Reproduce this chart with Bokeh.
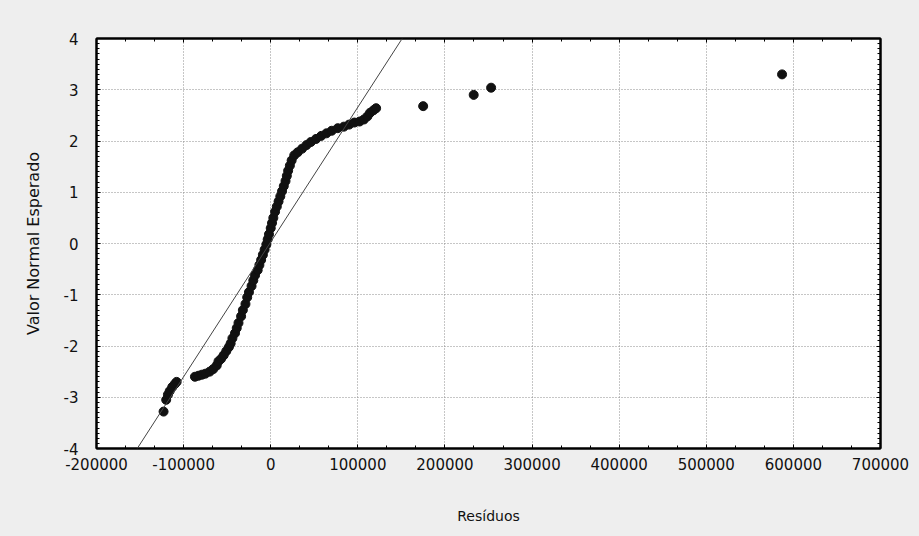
from bokeh.plotting import figure
from bokeh.models import (Range1d, LinearAxis, SingleIntervalTicker, NumeralTickFormatter,
                          Slope, ColumnDataSource, CustomLabelingPolicy)
from bokeh.embed import file_html
from bokeh.resources import INLINE

# Residuals (x) and expected normal values (y)
residuos = [
    -123000, -120000, -118000, -116000, -113000, -110000, -108000,
    -87000, -83000, -79000, -75000, -70000, -66000, -62000, -60000, -57000,
    -54000, -51000, -48000, -46000, -44000, -41000, -39000, -37000, -34000,
    -32000, -29000, -27000, -25000, -22000, -20000, -18000, -15000, -13000,
    -11000, -9000, -7000, -5000, -3500, -2000, 0, 1500, 3000, 5000, 7000,
    9000, 11000, 13000, 15000, 17000, 18500, 20000, 22000, 24000, 27000,
    31000, 36000, 41000, 46000, 52000, 58000, 64000, 70000, 77000, 84000,
    90000, 96000, 102000, 107000, 111000, 114000, 118000, 121000,
    175000, 233000, 253000, 587000,
]
valor_normal = [
    -3.28, -3.05, -2.95, -2.88, -2.80, -2.74, -2.70,
    -2.60, -2.58, -2.56, -2.54, -2.50, -2.45, -2.38, -2.30, -2.25,
    -2.18, -2.10, -2.02, -1.95, -1.85, -1.75, -1.65, -1.55, -1.42,
    -1.30, -1.18, -1.05, -0.95, -0.83, -0.72, -0.62, -0.52, -0.42,
    -0.32, -0.22, -0.12, -0.02, 0.08, 0.18, 0.30, 0.40, 0.50, 0.62, 0.72,
    0.82, 0.92, 1.02, 1.12, 1.22, 1.32, 1.42, 1.52, 1.62, 1.72,
    1.78, 1.85, 1.92, 1.98, 2.04, 2.10, 2.15, 2.20, 2.25, 2.28,
    2.32, 2.36, 2.38, 2.42, 2.48, 2.55, 2.60, 2.64,
    2.68, 2.90, 3.04, 3.30,
]

# Reference line (normal fit)
linha_inclinacao = 2.63e-5
linha_intercepto = 0.03

x_min, x_max, x_step = -200000, 700000, 100000
y_min, y_max, y_step = -4, 4, 1

FONT = "DejaVu Sans"
BG = "#eeeeee"

p = figure(width=919, height=536, output_backend="svg", toolbar_location=None,
           x_range=Range1d(x_min, x_max), y_range=Range1d(y_min, y_max),
           min_border_left=96, min_border_right=39, min_border_top=38, min_border_bottom=88,
           background_fill_color="white", border_fill_color=BG,
           outline_line_color="black", outline_line_width=2)

xt = SingleIntervalTicker(interval=x_step, num_minor_ticks=3)
yt = SingleIntervalTicker(interval=y_step, num_minor_ticks=10)

no_labels = CustomLabelingPolicy(code="""
for (const i of indices)
  indices.unset(i)
""")


def style_axis(ax, show_labels):
    ax.axis_line_color = "black"
    ax.axis_line_width = 2
    ax.major_tick_in = 4
    ax.major_tick_out = 0
    ax.minor_tick_in = 3
    ax.minor_tick_out = 0
    ax.major_tick_line_color = "black"
    ax.minor_tick_line_color = "black"
    ax.major_label_text_font = FONT
    ax.major_label_text_color = "#111111"
    ax.axis_label_text_font = FONT
    ax.axis_label_text_font_style = "normal"
    ax.axis_label_text_color = "#111111"
    if not show_labels:
        ax.major_label_policy = no_labels
        ax.major_label_standoff = 0


p.xaxis.ticker = xt
p.yaxis.ticker = yt
p.xaxis.formatter = NumeralTickFormatter(format="0")
p.yaxis.formatter = NumeralTickFormatter(format="0")
for ax in p.xaxis + p.yaxis:
    style_axis(ax, True)

p.xaxis.major_label_text_font_size = "15px"
p.yaxis.major_label_text_font_size = "15px"
p.xaxis.major_label_standoff = 9
p.yaxis.major_label_standoff = 18
p.xaxis.axis_label = "Resíduos"
p.yaxis.axis_label = "Valor Normal Esperado"
p.xaxis.axis_label_text_font_size = "14px"
p.yaxis.axis_label_text_font_size = "16px"
p.xaxis.axis_label_standoff = 35
p.yaxis.axis_label_standoff = 18

top_ax = LinearAxis(ticker=SingleIntervalTicker(interval=x_step, num_minor_ticks=3))
style_axis(top_ax, False)
p.add_layout(top_ax, "above")
right_ax = LinearAxis(ticker=SingleIntervalTicker(interval=y_step, num_minor_ticks=10))
style_axis(right_ax, False)
p.add_layout(right_ax, "right")

p.xgrid.ticker = xt
p.ygrid.ticker = yt
for g in (p.xgrid, p.ygrid):
    g.grid_line_color = "#8c8c8c"
    g.grid_line_dash = "1 2"
    g.grid_line_width = 1

p.add_layout(Slope(gradient=linha_inclinacao, y_intercept=linha_intercepto,
                   line_color="#444444", line_width=1))

src = ColumnDataSource(data=dict(x=residuos, y=valor_normal))
p.scatter("x", "y", source=src, marker="circle", size=9,
          fill_color="#111111", line_color="#111111")

html = file_html(p, INLINE)
html = html.replace("<head>", "<head><style>html,body{background:%s;}</style>" % BG, 1)
open("out.html", "w").write(html)
